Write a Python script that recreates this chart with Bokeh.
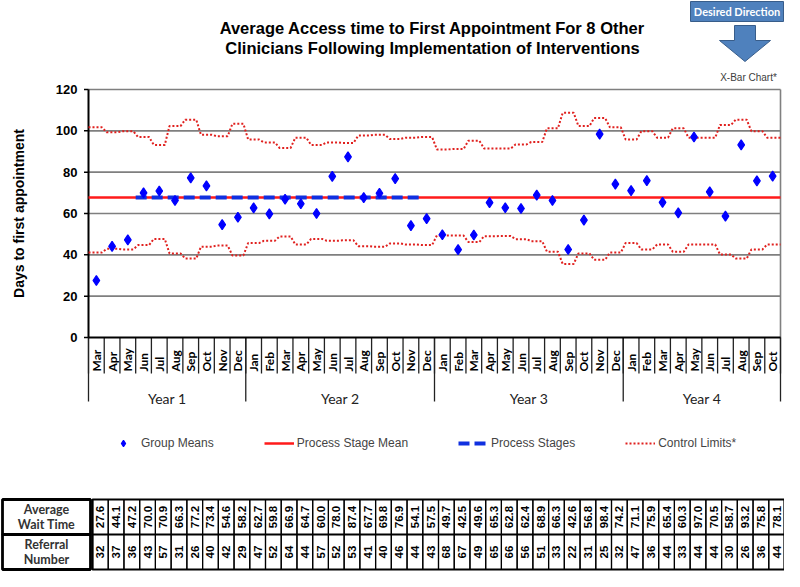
import numpy as np
from bokeh.plotting import figure
from bokeh.models import Range1d, Legend, LegendItem
from bokeh.embed import file_html
from bokeh.resources import INLINE
from bokeh.core.properties import value

# ---------------- data ----------------
years = ["Year 1", "Year 2", "Year 3", "Year 4"]
months_per_year = [10, 12, 12, 10]
months = (["Mar", "Apr", "May", "Jun", "Jul", "Aug", "Sep", "Oct", "Nov", "Dec"]
          + ["Jan", "Feb", "Mar", "Apr", "May", "Jun", "Jul", "Aug", "Sep", "Oct", "Nov", "Dec"]
          + ["Jan", "Feb", "Mar", "Apr", "May", "Jun", "Jul", "Aug", "Sep", "Oct", "Nov", "Dec"]
          + ["Jan", "Feb", "Mar", "Apr", "May", "Jun", "Jul", "Aug", "Sep", "Oct"])
avg_wait = [27.6, 44.1, 47.2, 70.0, 70.9, 66.3, 77.2, 73.4, 54.6, 58.2,
            62.7, 59.8, 66.9, 64.7, 60.0, 78.0, 87.4, 67.7, 69.8, 76.9, 54.1, 57.5,
            49.7, 42.5, 49.6, 65.3, 62.8, 62.4, 68.9, 66.3, 42.6, 56.8, 98.4, 74.2,
            71.1, 75.9, 65.4, 60.3, 97.0, 70.5, 58.7, 93.2, 75.8, 78.1]
referrals = [32, 37, 36, 43, 57, 31, 26, 40, 42, 29,
             47, 52, 64, 44, 57, 52, 53, 41, 40, 46, 44, 43,
             68, 67, 49, 65, 66, 56, 51, 33, 22, 31, 25, 32,
             47, 36, 44, 33, 44, 44, 30, 26, 36, 44]
ucl = [101.7, 99.3, 99.8, 97.0, 93.2, 102.3, 105.4, 98.1, 97.4, 103.4,
       95.8, 94.4, 91.7, 96.7, 93.2, 94.4, 94.1, 97.7, 98.1, 96.1, 96.7, 97.0,
       91.0, 91.2, 95.2, 91.5, 91.4, 93.4, 94.6, 101.2, 108.7, 102.3, 106.2, 101.7,
       95.8, 99.8, 96.7, 101.2, 96.7, 96.7, 102.8, 105.4, 99.8, 96.7]
lcl = [41.1, 42.9, 42.6, 44.7, 47.7, 40.7, 38.2, 43.9, 44.5, 39.7,
       45.7, 46.8, 48.9, 45.0, 47.7, 46.8, 47.0, 44.2, 43.9, 45.5, 45.0, 44.7,
       49.4, 49.3, 46.2, 49.0, 49.1, 47.6, 46.6, 41.5, 35.6, 40.7, 37.6, 41.1,
       45.7, 42.6, 45.0, 41.5, 45.0, 45.0, 40.2, 38.2, 42.6, 45.0]
stage_mean = 67.7
stage_first, stage_last = 3, 20          # Jun Year 1 .. Nov Year 2
y_ticks = [0, 20, 40, 60, 80, 100, 120]
y_label = "Days to first appointment"
title_lines = ["Average Access time to First Appointment For 8 Other",
               "Clinicians Following Implementation of Interventions"]
row_headers = [["Average", "Wait Time"], ["Referral", "Number"]]

n = len(months)
idx = np.arange(n)
edges = np.arange(n + 1) - 0.5
ends = np.cumsum(months_per_year)
starts = ends - np.array(months_per_year)
year_centers = [(s + e - 1) / 2 for s, e in zip(starts, ends)]
year_edges = [e - 0.5 for e in np.concatenate([[0], ends])]
y_min, y_max = y_ticks[0], y_ticks[-1]

ARIAL = "Liberation Sans"
CALIBRI = "Lato"

# ---------------- layout helpers (page pixels -> chart units) ----------------
W, H = 784, 571
FX0, FX1 = 88.0, 780.0      # plot-area left/right in page pixels
FY0, FY1 = 337.0, 89.0      # y=0 and y=120 in page pixels
XS = (FX1 - FX0) / n
YS = (FY0 - FY1) / (y_max - y_min)


def px(X):
    return (X - FX0) / XS - 0.5


def py(Y):
    return (FY0 - Y) / YS


p = figure(width=W, height=H, output_backend="svg", toolbar_location=None,
           x_range=Range1d(px(0), px(W)), y_range=Range1d(py(H), py(0)),
           x_axis_location=None, y_axis_location=None, min_border=0)
p.outline_line_color = None
p.grid.visible = False

# ---------------- title + desired direction ----------------
p.text(x=[px(432)] * 2, y=[py(27), py(47)], text=title_lines, text_font=value(ARIAL),
       text_font_style="bold", text_font_size="16.5px", text_align="center",
       text_baseline="middle", text_color="black")
p.quad(left=[px(690)], right=[px(783)], top=[py(1)], bottom=[py(21)],
       fill_color="#4F81BD", line_color="#385D8A", line_width=1)
p.text(x=[px(736.5)], y=[py(11)], text=["Desired Direction"], text_font=value(CALIBRI),
       text_font_style="bold", text_font_size="11px", text_align="center",
       text_baseline="middle", text_color="white")
ax_ = [734, 755, 755, 770, 744.5, 719, 734]
ay_ = [25, 25, 40, 40, 61, 40, 40]
p.patch(x=[px(v) for v in ax_], y=[py(v) for v in ay_], fill_color="#4F81BD",
        line_color="#385D8A", line_width=1)
p.text(x=[px(748)], y=[py(77)], text=["X-Bar Chart*"], text_font=value(ARIAL),
       text_font_size="10px", text_align="center", text_baseline="middle",
       text_color="#404040")

# ---------------- plot area frame, grid, axes ----------------
p.segment(x0=[edges[0]] * (len(y_ticks) - 1), x1=[edges[-1]] * (len(y_ticks) - 1),
          y0=y_ticks[1:], y1=y_ticks[1:], line_color="#7F7F7F", line_width=1.6)
p.segment(x0=[edges[-1]], x1=[edges[-1]], y0=[y_min], y1=[y_max],
          line_color="#808080", line_width=1.6)
# month separators and year separators below the axis
p.segment(x0=edges, x1=edges, y0=[y_min] * len(edges), y1=[py(373)] * len(edges),
          line_color="#222222", line_width=1.3)
p.segment(x0=year_edges, x1=year_edges, y0=[y_min] * len(year_edges),
          y1=[py(401)] * len(year_edges), line_color="#222222", line_width=1.3)
# y axis
p.segment(x0=[edges[0]], x1=[edges[0]], y0=[y_min], y1=[y_max], line_color="black",
          line_width=2)
p.segment(x0=[px(83.5)] * len(y_ticks), x1=[edges[0]] * len(y_ticks), y0=y_ticks,
          y1=y_ticks, line_color="black", line_width=1.5)
p.text(x=[px(77)] * len(y_ticks), y=y_ticks, text=[str(t) for t in y_ticks],
       text_font=value(ARIAL), text_font_style="bold", text_font_size="13px",
       text_align="right", text_baseline="middle", text_color="black")
p.text(x=[px(18)], y=[(y_min + y_max) / 2], text=[y_label], angle=np.pi / 2,
       text_font=value(ARIAL), text_font_style="bold", text_font_size="14px",
       text_align="center", text_baseline="middle", text_color="black")
# x axis line + month / year labels
p.segment(x0=[edges[0]], x1=[edges[-1]], y0=[y_min], y1=[y_min], line_color="black",
          line_width=2)
p.text(x=idx, y=[py(371)] * n, text=months, angle=np.pi / 2, text_font=value(CALIBRI),
       text_font_style="bold", text_font_size="12px", text_align="left",
       text_baseline="middle", text_color="black")
p.text(x=year_centers, y=[py(398)] * len(years), text=years, text_font=value(CALIBRI),
       text_font_size="14px", text_align="center", text_baseline="middle",
       text_color="#222222")

# ---------------- series ----------------
half = 0.35
sx = np.column_stack([idx - half, idx + half]).ravel()
sx[0], sx[-1] = edges[0], edges[-1]
r_ucl = p.line(sx, np.repeat(ucl, 2), line_color="#E0201E", line_width=2, line_dash="2 2")
r_lcl = p.line(sx, np.repeat(lcl, 2), line_color="#E0201E", line_width=2, line_dash="2 2")
r_mean = p.line([edges[0], edges[-1]], [stage_mean, stage_mean], line_color="#FF1A1A",
                line_width=2.5)
r_stage = p.line([stage_first - 0.5, stage_last + 0.5], [stage_mean, stage_mean],
                 line_color="#1030E0", line_width=4, line_dash="11 5")
r_pts = p.scatter(idx, avg_wait, marker="diamond", size=10,
                  fill_color="#0000FF", line_color="#0000FF", line_width=1.2)

legend = Legend(items=[LegendItem(label="Group Means", renderers=[r_pts]),
                       LegendItem(label="Process Stage Mean", renderers=[r_mean]),
                       LegendItem(label="Process Stages", renderers=[r_stage]),
                       LegendItem(label="Control Limits*", renderers=[r_ucl])],
                orientation="horizontal", location=(108, 120),
                border_line_color=None, background_fill_alpha=0,
                label_text_font=ARIAL, label_text_font_size="12px",
                glyph_width=30, glyph_height=16, label_standoff=3,
                spacing=50, padding=4, margin=0)
p.add_layout(legend, "center")

# ---------------- data table ----------------
tx = idx + (px(92) - edges[0])          # table columns sit a little right of the chart's
row_top = [py(499), py(534)]
row_bot = [py(534), py(569)]
hdr_left, hdr_right = px(2), px(90)
for r in range(2):
    p.quad(left=tx - 0.5, right=tx + 0.5, top=row_top[r], bottom=row_bot[r],
           fill_color=None, line_color="black", line_width=1.2)
    p.quad(left=[hdr_left], right=[hdr_right], top=[row_top[r]], bottom=[row_bot[r]],
           fill_color=None, line_color="black", line_width=2.8)
    mid = (row_top[r] + row_bot[r]) / 2
    p.text(x=[(hdr_left + hdr_right) / 2] * 2, y=[mid + 3.4, mid - 3.4],
           text=row_headers[r], text_font=value(CALIBRI), text_font_style="bold",
           text_font_size="12.5px", text_align="center", text_baseline="middle",
           text_color="#333333")
p.quad(left=[tx[0] - 0.5], right=[tx[-1] + 0.5], top=[row_top[0]], bottom=[row_bot[1]],
       fill_color=None, line_color="black", line_width=2.2)
p.segment(x0=[tx[0] - 0.5], x1=[tx[-1] + 0.5], y0=[row_bot[0]], y1=[row_bot[0]],
          line_color="black", line_width=2.2)
p.text(x=tx, y=[(row_top[0] + row_bot[0]) / 2] * n, text=[f"{v:.1f}" for v in avg_wait],
       angle=np.pi / 2, text_font=value(ARIAL), text_font_style="bold",
       text_font_size="11.5px", text_align="center", text_baseline="middle",
       text_color="black")
p.text(x=tx, y=[(row_top[1] + row_bot[1]) / 2] * n, text=[str(v) for v in referrals],
       angle=np.pi / 2, text_font=value(ARIAL), text_font_style="bold",
       text_font_size="11.5px", text_align="center", text_baseline="middle",
       text_color="black")

open("out.html", "w").write(file_html(p, INLINE))
